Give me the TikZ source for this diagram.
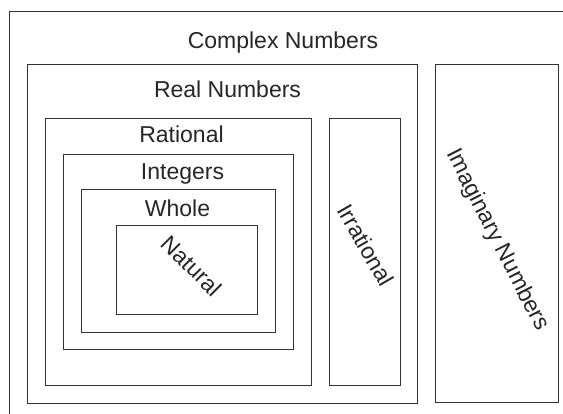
\documentclass[tikz,border=0pt]{standalone}
\usepackage{fontspec}
\setmainfont{Liberation Sans}
\begin{document}
\begin{tikzpicture}[x=1pt,y=-1pt,
  setbox/.style={draw=black!80, line width=0.9pt, inner sep=0pt, anchor=north west},
  lbl/.style={text=black!85, font=\fontsize{23}{27}\selectfont, inner sep=0pt}]
\useasboundingbox (0,0) rectangle (563,414);
\fill[white] (0,0) rectangle (563,414);
% outer (complex) frame, cut off at right and bottom
\coordinate (cBL) at (9.5,420);
\coordinate (cTL) at (9.5,11);
\coordinate (cTR) at (570,11);
\draw[draw=black!80, line width=0.9pt] (cBL) -- (cTL) -- (cTR);
\newcommand{\setrect}[5]{\node[setbox, minimum width=#4-#2, minimum height=#5-#3] (#1) at (#2,#3) {};}
\setrect{real}{27}{64}{417}{403}
\setrect{rational}{45}{118}{311}{385}
\setrect{integers}{63}{154}{293}{349}
\setrect{whole}{81}{189}{275}{332}
\setrect{natural}{116}{225}{257}{314}
\setrect{irrational}{329}{118}{400}{385}
\setrect{imaginary}{435}{64}{558}{402}
% labels
\node[lbl, anchor=base] (tcomplex) at (283,49) {Complex Numbers};
\node[lbl, anchor=base] (treal) at (227.5,98) {Real Numbers};
\node[lbl, anchor=base] (trational) at (181.5,143) {Rational};
\node[lbl, anchor=base] (tintegers) at (182.5,180) {Integers};
\node[lbl, anchor=base] (twhole) at (177.5,217) {Whole};
\node[lbl, rotate=-45] (tnatural) at (192,266) {Natural};
\node[lbl, rotate=-60] (tirrational) at (366,245) {Irrational};
\node[lbl, rotate=-63] (timaginary) at (497,240) {Imaginary Numbers};
\end{tikzpicture}
\end{document}
